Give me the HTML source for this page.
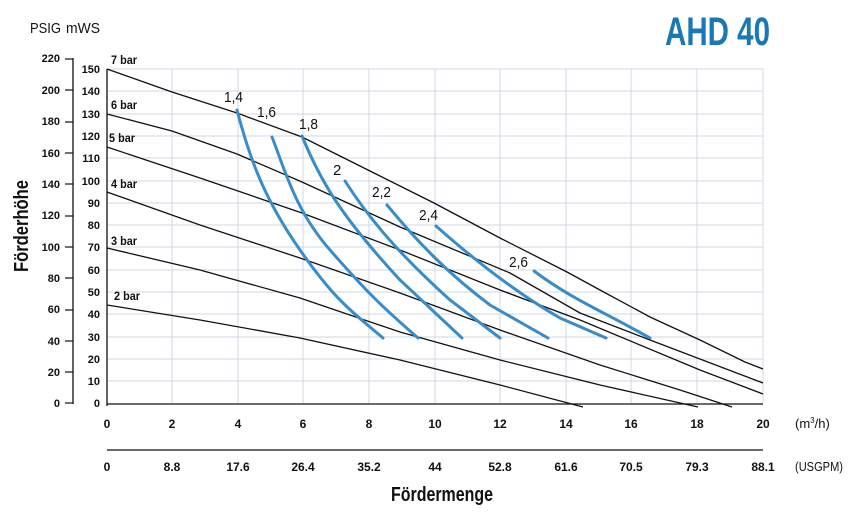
<!DOCTYPE html>
<html><head><meta charset="utf-8"><style>
body{margin:0;background:#fff}
svg{display:block;font-family:"Liberation Sans Narrow","Liberation Sans",sans-serif}
.b{font-weight:bold}
</style></head><body>
<svg width="860" height="513" viewBox="0 0 860 513">
<g stroke="#cdd8e4" stroke-width="1">
<line x1="107" y1="69" x2="763" y2="69"/><line x1="107" y1="91" x2="763" y2="91"/><line x1="107" y1="114" x2="763" y2="114"/><line x1="107" y1="136" x2="763" y2="136"/><line x1="107" y1="158" x2="763" y2="158"/><line x1="107" y1="181" x2="763" y2="181"/><line x1="107" y1="203" x2="763" y2="203"/><line x1="107" y1="225" x2="763" y2="225"/><line x1="107" y1="247" x2="763" y2="247"/><line x1="107" y1="270" x2="763" y2="270"/><line x1="107" y1="292" x2="763" y2="292"/><line x1="107" y1="314" x2="763" y2="314"/><line x1="107" y1="337" x2="763" y2="337"/><line x1="107" y1="359" x2="763" y2="359"/><line x1="107" y1="381" x2="763" y2="381"/>
<line x1="172" y1="69" x2="172" y2="403"/><line x1="238" y1="69" x2="238" y2="403"/><line x1="303" y1="69" x2="303" y2="403"/><line x1="369" y1="69" x2="369" y2="403"/><line x1="435" y1="69" x2="435" y2="403"/><line x1="500" y1="69" x2="500" y2="403"/><line x1="566" y1="69" x2="566" y2="403"/><line x1="631" y1="69" x2="631" y2="403"/><line x1="697" y1="69" x2="697" y2="403"/><line x1="763" y1="69" x2="763" y2="403"/>
</g>
<g stroke="#111" stroke-width="1.3" fill="none">
<line x1="107" y1="69" x2="107" y2="406"/>
<line x1="107" y1="404" x2="763" y2="404"/>
<line x1="107" y1="450" x2="763" y2="450"/>
<line x1="73" y1="58" x2="73" y2="404"/>
<path d="M107 69 L172 92 L237 113 L302 137 L368 170 L434 203 L500 238 L567 272 L600 290 L650 317 L700 340 L745 362 L763 369"/>
<path d="M107 114 L172 131 L237 154 L302 182 L400 227 L510 273 L580 313 L650 340 L763 383"/>
<path d="M107 147 L200 178 L302 213 L400 250 L500 290 L580 320 L700 370 L763 394"/>
<path d="M107 192 L200 225 L300 258 L400 293 L500 330 L600 365 L680 390 L732 407"/>
<path d="M107 248 L200 270 L300 298 L400 332 L500 360 L600 385 L698 407"/>
<path d="M107 305 L200 320 L300 338 L400 360 L500 385 L583 407"/>
</g>
<g stroke="#3a8cc8" stroke-width="3" fill="none" stroke-linecap="round">
<path d="M237 110 C250 160 265 200 300 250 S350 310 383 338"/>
<path d="M272 137 C285 170 295 210 330 250 S380 305 418 338"/>
<path d="M302 136 C320 180 340 215 400 280 L462 338"/>
<path d="M345 181 C370 220 400 255 450 300 L500 338"/>
<path d="M387 205 C420 245 450 275 490 305 L548 338"/>
<path d="M436 226 C480 265 520 295 560 318 L606 338"/>
<path d="M534 271 C570 298 600 310 650 338"/>
</g>
<g font-size="15" fill="#111">
<text x="224" y="102" textLength="19" lengthAdjust="spacingAndGlyphs">1,4</text><text x="257" y="117" textLength="19" lengthAdjust="spacingAndGlyphs">1,6</text><text x="299" y="129" textLength="19" lengthAdjust="spacingAndGlyphs">1,8</text><text x="333" y="175">2</text><text x="372" y="197" textLength="19" lengthAdjust="spacingAndGlyphs">2,2</text><text x="419" y="220" textLength="19" lengthAdjust="spacingAndGlyphs">2,4</text><text x="509" y="267" textLength="19" lengthAdjust="spacingAndGlyphs">2,6</text>
</g>
<g font-size="12" class="b" fill="#111">
<text x="111" y="64" textLength="26" lengthAdjust="spacingAndGlyphs">7 bar</text><text x="111" y="109" textLength="26" lengthAdjust="spacingAndGlyphs">6 bar</text><text x="109" y="142" textLength="26" lengthAdjust="spacingAndGlyphs">5 bar</text><text x="111" y="188" textLength="26" lengthAdjust="spacingAndGlyphs">4 bar</text><text x="111" y="245" textLength="26" lengthAdjust="spacingAndGlyphs">3 bar</text><text x="114" y="300" textLength="26" lengthAdjust="spacingAndGlyphs">2 bar</text>
</g>
<g font-size="11" class="b" fill="#111" text-anchor="end">
<text x="100" y="73">150</text><text x="100" y="95">140</text><text x="100" y="118">130</text><text x="100" y="140">120</text><text x="100" y="162">110</text><text x="100" y="185">100</text><text x="100" y="207">90</text><text x="100" y="229">80</text><text x="100" y="251">70</text><text x="100" y="274">60</text><text x="100" y="296">50</text><text x="100" y="318">40</text><text x="100" y="341">30</text><text x="100" y="363">20</text><text x="100" y="385">10</text><text x="100" y="407">0</text>
<text x="60" y="62">220</text><text x="60" y="94">200</text><text x="60" y="125">180</text><text x="60" y="157">160</text><text x="60" y="188">140</text><text x="60" y="219">120</text><text x="60" y="251">100</text><text x="60" y="282">80</text><text x="60" y="313">60</text><text x="60" y="345">40</text><text x="60" y="376">20</text><text x="60" y="407">0</text>
</g>
<g stroke="#111" stroke-width="1.2">
<line x1="65" y1="59" x2="73" y2="59"/><line x1="65" y1="90" x2="73" y2="90"/><line x1="65" y1="122" x2="73" y2="122"/><line x1="65" y1="153" x2="73" y2="153"/><line x1="65" y1="184" x2="73" y2="184"/><line x1="65" y1="216" x2="73" y2="216"/><line x1="65" y1="247" x2="73" y2="247"/><line x1="65" y1="278" x2="73" y2="278"/><line x1="65" y1="310" x2="73" y2="310"/><line x1="65" y1="341" x2="73" y2="341"/><line x1="65" y1="372" x2="73" y2="372"/><line x1="65" y1="403" x2="73" y2="403"/>
</g>
<g font-size="12" class="b" fill="#111" text-anchor="middle">
<text x="107" y="428">0</text><text x="172" y="428">2</text><text x="238" y="428">4</text><text x="303" y="428">6</text><text x="369" y="428">8</text><text x="435" y="428">10</text><text x="500" y="428">12</text><text x="566" y="428">14</text><text x="631" y="428">16</text><text x="697" y="428">18</text><text x="763" y="428">20</text>
<text x="107" y="471">0</text><text x="172" y="471">8.8</text><text x="238" y="471">17.6</text><text x="303" y="471">26.4</text><text x="369" y="471">35.2</text><text x="435" y="471">44</text><text x="500" y="471">52.8</text><text x="566" y="471">61.6</text><text x="631" y="471">70.5</text><text x="697" y="471">79.3</text><text x="763" y="471">88.1</text>
</g>
<text x="795" y="428" font-size="13" fill="#111">(m<tspan font-size="8" dy="-5">3</tspan><tspan dy="5">/h)</tspan></text>
<text x="795" y="471" font-size="13" fill="#111" textLength="48" lengthAdjust="spacingAndGlyphs">(USGPM)</text>
<text x="391" y="501" font-size="20" class="b" fill="#111" textLength="102" lengthAdjust="spacingAndGlyphs">Fördermenge</text>
<text transform="translate(28,272) rotate(-90)" font-size="20" class="b" fill="#111" textLength="92" lengthAdjust="spacingAndGlyphs">Förderhöhe</text>
<text x="30" y="33" font-size="15" fill="#111" textLength="31" lengthAdjust="spacingAndGlyphs">PSIG</text>
<text x="66" y="33" font-size="15" fill="#111" textLength="34" lengthAdjust="spacingAndGlyphs">mWS</text>
<text x="665" y="45" font-size="40" class="b" fill="#1a78b4" textLength="105" lengthAdjust="spacingAndGlyphs">AHD 40</text>
</svg>
</body></html>
